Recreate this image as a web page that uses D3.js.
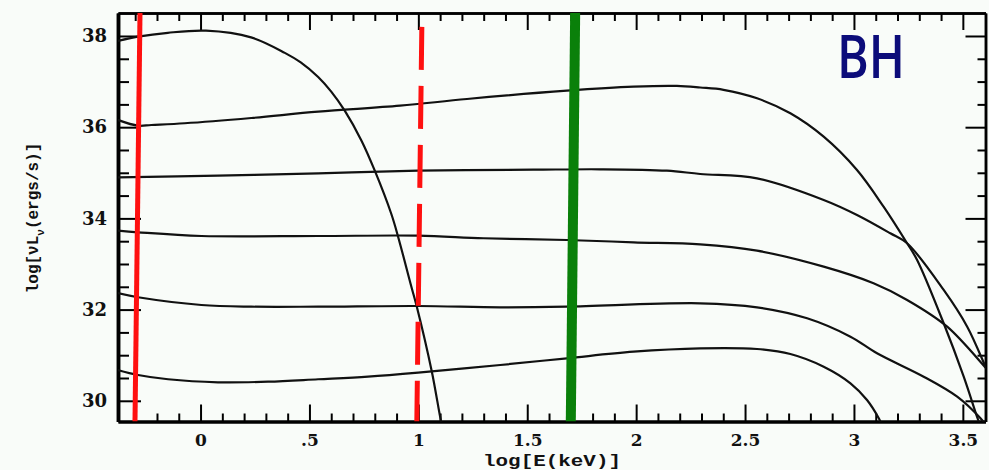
<!DOCTYPE html>
<html>
<head>
<meta charset="utf-8">
<script src="https://cdn.jsdelivr.net/npm/d3@7"></script>
<style>
  html, body { margin: 0; padding: 0; background: #f9fcf9; }
  svg { display: block; }
</style>
</head>
<body>
<svg id="chart" width="989" height="470"></svg>
<script>
// ---- data ----
const xMajorTicks = [0, 0.5, 1, 1.5, 2, 2.5, 3, 3.5];
const xTickLabels = ["0", ".5", "1", "1.5", "2", "2.5", "3", "3.5"];
const xMinorTicks = [-0.3, -0.2, -0.1, 0.1, 0.2, 0.3, 0.4, 0.6, 0.7, 0.8, 0.9,
  1.1, 1.2, 1.3, 1.4, 1.6, 1.7, 1.8, 1.9, 2.1, 2.2, 2.3, 2.4, 2.6, 2.7, 2.8, 2.9,
  3.1, 3.2, 3.3, 3.4];
const yMajorTicks = [30, 32, 34, 36, 38];
const yTickLabels = ["30", "32", "34", "36", "38"];
const yMinorTicks = [30.5, 31, 31.5, 32.5, 33, 33.5, 34.5, 35, 35.5, 36.5, 37, 37.5];

// curves: [log E (keV), log nuL_nu]
const curveBlackbody = [[-0.38, 37.89], [-0.287, 37.985], [-0.15, 38.07], [0.025, 38.116],
  [0.232, 37.97], [0.387, 37.63], [0.46, 37.42], [0.54, 37.1], [0.6, 36.78],
  [0.662, 36.362], [0.739, 35.704], [0.8, 35.046], [0.876, 34.096], [0.907, 33.599],
  [0.968, 32.502], [0.993, 32.064], [1.062, 30.638], [1.103, 29.579], [1.11, 29.45]];
const curveTop = [[-0.38, 36.16], [-0.287, 36.033], [-0.226, 36.048], [-0.073, 36.086],
  [0.233, 36.202], [0.54, 36.34], [0.916, 36.471], [1.223, 36.618], [1.682, 36.8],
  [1.988, 36.888], [2.187, 36.904], [2.294, 36.87], [2.401, 36.82], [2.555, 36.634],
  [2.708, 36.305], [2.861, 35.792], [3.014, 35.061], [3.136, 34.257], [3.244, 33.454],
  [3.29, 33.088], [3.412, 31.7], [3.504, 30.529], [3.565, 29.651], [3.58, 29.45]];
const curveSecond = [[-0.38, 34.9], [0.08, 34.936], [0.54, 34.989], [0.999, 35.046],
  [1.529, 35.068], [1.835, 35.077], [2.141, 35.046], [2.294, 34.974], [2.555, 34.879],
  [2.861, 34.404], [3.014, 34.075], [3.167, 33.673], [3.244, 33.454], [3.412, 32.43],
  [3.52, 31.625], [3.604, 30.748], [3.62, 30.58]];
const curveThird = [[-0.38, 33.73], [-0.287, 33.695], [0.004, 33.614], [0.54, 33.614],
  [0.999, 33.621], [1.299, 33.564], [1.682, 33.526], [1.988, 33.476], [2.294, 33.432],
  [2.555, 33.292], [2.861, 32.941], [3.09, 32.577], [3.244, 32.211], [3.428, 31.625],
  [3.607, 30.713], [3.62, 30.65]];
const curveFourth = [[-0.38, 32.36], [-0.287, 32.27], [0.004, 32.101], [0.233, 32.064],
  [0.54, 32.064], [0.999, 32.079], [1.376, 32.05], [1.682, 32.064], [2.294, 32.138],
  [2.555, 32.05], [2.785, 31.809], [2.984, 31.406], [3.106, 31.042], [3.32, 30.529],
  [3.474, 30.09], [3.581, 29.616], [3.6, 29.5]];
const curveBottom = [[-0.38, 30.675], [-0.287, 30.566], [-0.149, 30.472], [0.08, 30.406],
  [0.31, 30.419], [0.54, 30.472], [0.769, 30.529], [0.999, 30.616], [1.376, 30.785],
  [1.682, 30.932], [1.988, 31.077], [2.294, 31.151], [2.555, 31.136], [2.708, 31.026],
  [2.861, 30.748], [2.984, 30.384], [3.06, 30.018], [3.114, 29.617], [3.13, 29.45]];
const curves = [curveBlackbody, curveTop, curveSecond, curveThird, curveFourth, curveBottom];

// vertical marker lines: [E at top, E at bottom], [top value, bottom value]
const redSolidE = [-0.278, -0.301];
const redSolidL = [38.504, 29.546];
const redDashedE = [1.016, 0.993];
const redDashedL = [38.2, 29.546];
const greenE = [1.72, 1.70];
const greenL = [38.504, 29.546];

const xDomain = [-0.379, 3.604];
const yDomain = [29.546, 38.504];

// ---- layout ----
const plotLeft = 118, plotRight = 985.5, plotTop = 13, plotBottom = 421.5;
const svg = d3.select("#chart");
svg.append("rect").attr("width", 989).attr("height", 470).attr("fill", "#f9fcf9");

const x = d3.scaleLinear().domain(xDomain).range([plotLeft, plotRight]);
const y = d3.scaleLinear().domain(yDomain).range([plotBottom, plotTop]);

svg.append("clipPath").attr("id", "plotclip")
  .append("rect").attr("x", plotLeft).attr("y", plotTop)
  .attr("width", plotRight - plotLeft).attr("height", plotBottom - plotTop);

const tickFont = "'DejaVu Serif', serif";

function styleAxis(g, width) {
  g.select(".domain").attr("stroke", "#000").attr("stroke-width", width);
  g.selectAll(".tick line").attr("stroke", "#000").attr("stroke-width", 2);
}

// bottom axis
const gBottomMinor = svg.append("g").attr("transform", `translate(0,${plotBottom})`)
  .call(d3.axisBottom(x).tickValues(xMinorTicks).tickSize(-8).tickSizeOuter(0).tickFormat(""));
styleAxis(gBottomMinor, 3);
const gBottom = svg.append("g").attr("transform", `translate(0,${plotBottom})`)
  .call(d3.axisBottom(x).tickValues(xMajorTicks).tickSize(-17).tickSizeOuter(0)
    .tickPadding(12).tickFormat((d, i) => xTickLabels[i]));
styleAxis(gBottom, 3);
gBottom.selectAll("text").attr("font-family", tickFont).attr("font-weight", "bold")
  .attr("font-size", 17).attr("fill", "#111");

// top axis
const gTopMinor = svg.append("g").attr("transform", `translate(0,${plotTop})`)
  .call(d3.axisTop(x).tickValues(xMinorTicks).tickSize(-8).tickSizeOuter(0).tickFormat(""));
styleAxis(gTopMinor, 2.5);
const gTop = svg.append("g").attr("transform", `translate(0,${plotTop})`)
  .call(d3.axisTop(x).tickValues(xMajorTicks).tickSize(-17).tickSizeOuter(0).tickFormat(""));
styleAxis(gTop, 2.5);

// left axis
const gLeftMinor = svg.append("g").attr("transform", `translate(${plotLeft},0)`)
  .call(d3.axisLeft(y).tickValues(yMinorTicks).tickSize(-11).tickSizeOuter(0).tickFormat(""));
styleAxis(gLeftMinor, 3.5);
const gLeft = svg.append("g").attr("transform", `translate(${plotLeft},0)`)
  .call(d3.axisLeft(y).tickValues(yMajorTicks).tickSize(-23).tickSizeOuter(0)
    .tickPadding(11).tickFormat((d, i) => yTickLabels[i]));
styleAxis(gLeft, 3.5);
gLeft.selectAll("text").attr("font-family", tickFont).attr("font-weight", "bold")
  .attr("font-size", 18).attr("fill", "#111");

// right axis
const gRightMinor = svg.append("g").attr("transform", `translate(${plotRight},0)`)
  .call(d3.axisRight(y).tickValues(yMinorTicks).tickSize(-8).tickSizeOuter(0).tickFormat(""));
styleAxis(gRightMinor, 2.5);
const gRight = svg.append("g").attr("transform", `translate(${plotRight},0)`)
  .call(d3.axisRight(y).tickValues(yMajorTicks).tickSize(-20).tickSizeOuter(0).tickFormat(""));
styleAxis(gRight, 2.5);

// curves
const line = d3.line().x(d => x(d[0])).y(d => y(d[1])).curve(d3.curveCatmullRom.alpha(0.5));
svg.append("g").attr("clip-path", "url(#plotclip)")
  .selectAll("path").data(curves).join("path")
  .attr("d", line).attr("fill", "none").attr("stroke", "#111").attr("stroke-width", 2.2)
  .attr("stroke-linejoin", "round");

// marker lines
const markers = [
  { e: redSolidE, l: redSolidL, color: "#ff1010", width: 5, dash: null },
  { e: redDashedE, l: redDashedL, color: "#ff1010", width: 5, dash: "43,16" },
  { e: greenE, l: greenL, color: "#0a800a", width: 10, dash: null }
];
svg.append("g").attr("clip-path", "url(#plotclip)")
  .selectAll("line").data(markers).join("line")
  .attr("x1", d => x(d.e[0])).attr("y1", d => y(d.l[0]))
  .attr("x2", d => x(d.e[1])).attr("y2", d => y(d.l[1]))
  .attr("stroke", d => d.color).attr("stroke-width", d => d.width)
  .attr("stroke-dasharray", d => d.dash);

// axis titles
svg.append("text").attr("x", 483).attr("y", 466)
  .attr("font-family", "'Liberation Mono', monospace").attr("font-weight", "bold")
  .attr("font-size", 17).attr("fill", "#111")
  .attr("textLength", 138).attr("lengthAdjust", "spacingAndGlyphs").text("log[E(keV)]");

const yt = svg.append("text").attr("transform", "translate(38,218) rotate(-90)")
  .attr("text-anchor", "middle")
  .attr("font-family", "'Liberation Mono', monospace").attr("font-weight", "bold")
  .attr("font-size", 16).attr("fill", "#111");
yt.append("tspan").text("log[νL");
yt.append("tspan").attr("baseline-shift", "sub").attr("font-size", 11).text("ν");
yt.append("tspan").text("(ergs/s)]");

// BH label
svg.append("text").attr("x", 837).attr("y", 78)
  .attr("font-family", "'Open Sans', sans-serif").attr("font-weight", 600)
  .attr("font-size", 59).attr("fill", "#0c0c7a")
  .attr("textLength", 68).attr("lengthAdjust", "spacingAndGlyphs").text("BH");
</script>
</body>
</html>
